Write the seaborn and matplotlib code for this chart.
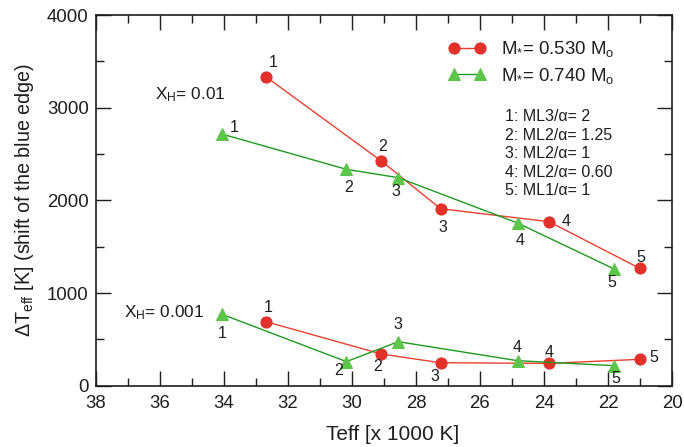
import matplotlib
matplotlib.use("Agg")
import matplotlib.pyplot as plt
import seaborn as sns
import pandas as pd

# ---- data ----
teff_m053 = [32.67, 29.08, 27.23, 23.84, 21.00]
teff_m074 = [34.05, 30.17, 28.55, 24.82, 21.81]
dT_m053_xh01 = [3330, 2425, 1910, 1770, 1265]
dT_m074_xh01 = [2715, 2335, 2245, 1755, 1260]
dT_m053_xh001 = [690, 342, 248, 241, 285]
dT_m074_xh001 = [770, 260, 475, 270, 216]
model_ids = ["1", "2", "3", "4", "5"]
model_notes = ["1: ML3/\u03b1= 2", "2: ML2/\u03b1= 1.25", "3: ML2/\u03b1= 1",
               "4: ML2/\u03b1= 0.60", "5: ML1/\u03b1= 1"]
series_labels = [r"M$_{*}$= 0.530 M$_{\rm o}$", r"M$_{*}$= 0.740 M$_{\rm o}$"]
xh_labels = [r"X$_{\rm H}$= 0.01", r"X$_{\rm H}$= 0.001"]
x_ticks = [38, 36, 34, 32, 30, 28, 26, 24, 22, 20]
y_ticks = [0, 1000, 2000, 3000, 4000]

sns.set_theme(style="ticks")
plt.rcParams["font.family"] = ["Liberation Sans", "DejaVu Sans"]
plt.rcParams["mathtext.fontset"] = "custom"
plt.rcParams["mathtext.rm"] = "Liberation Sans"
plt.rcParams["mathtext.it"] = "Liberation Sans:italic"
plt.rcParams["mathtext.bf"] = "Liberation Sans:bold"

RED_M, RED_L = "#e2302a", "#e8402f"
GRN_M, GRN_L = "#5cc64a", "#1f9a1f"
TXT = "#1e1e1e"

fig = plt.figure(figsize=(6.84, 4.47), dpi=100)
ax = fig.add_axes([0.1399, 0.1371, 0.8426, 0.8293])

def draw(teff, dT, mcol, lcol, marker, ms):
    df = pd.DataFrame({"teff": teff, "dT": dT})
    sns.lineplot(data=df, x="teff", y="dT", sort=False, ax=ax, color=lcol,
                 linewidth=1.0, marker=marker, markersize=ms,
                 markerfacecolor=mcol, markeredgecolor=mcol, legend=False)
    return ax.get_lines()[-1]

h1 = draw(teff_m053, dT_m053_xh01, RED_M, RED_L, "o", 8)
h2 = draw(teff_m074, dT_m074_xh01, GRN_M, GRN_L, "^", 9)
draw(teff_m053, dT_m053_xh001, RED_M, RED_L, "o", 8)
draw(teff_m074, dT_m074_xh001, GRN_M, GRN_L, "^", 9)

# label offsets in pixels (dx right, dy down)
off_r_up = [(7, -15), (1, -14), (2, 19), (17, 0), (1, -11)]
off_g_up = [(12, -7), (2, 18), (-2, 14), (2, 17), (-2, 14)]
off_r_lo = [(2, -14), (-4, 12), (-6, 14), (0, -11), (14, -2)]
off_g_lo = [(0, 19), (-8, 9), (0, -17), (-1, -13), (2, 13)]

def label(teff, dT, offs):
    for t, d, lab, (dx, dy) in zip(teff, dT, model_ids, offs):
        ax.annotate(lab, (t, d), xytext=(dx * 0.72, -dy * 0.72),
                    textcoords="offset points", ha="center", va="center",
                    fontsize=11.5, color=TXT)

label(teff_m053, dT_m053_xh01, off_r_up)
label(teff_m074, dT_m074_xh01, off_g_up)
label(teff_m053, dT_m053_xh001, off_r_lo)
label(teff_m074, dT_m074_xh001, off_g_lo)

ax.set_xlim(38, 20)
ax.set_ylim(0, 4000)
ax.set_xticks(x_ticks)
ax.set_yticks(y_ticks)
ax.set_xticks([v for v in range(21, 38)], minor=True)
ax.set_yticks([500, 1500, 2500, 3500], minor=True)
ax.tick_params(which="major", direction="in", length=11, width=1.0,
               top=True, right=True, labelsize=13.4, colors=TXT)
ax.tick_params(axis="x", which="major", pad=7)
ax.tick_params(axis="y", which="major", pad=5)
ax.tick_params(which="minor", direction="in", length=5.5, width=1.0,
               top=True, right=True, colors=TXT)
for s in ax.spines.values():
    s.set_linewidth(1.2)
    s.set_color(TXT)

ax.set_xlabel("Teff [x 1000 K]", fontsize=15, color=TXT, labelpad=9)
ax.xaxis.label.set_x(0.515)
ax.set_ylabel(r"$\Delta$T$_{\rm eff}$ [K] (shift of the blue edge)",
              fontsize=14.2, color=TXT, labelpad=8)

leg = ax.legend(handles=[h1, h2], labels=series_labels, loc="upper left",
                bbox_to_anchor=(0.612, 0.935), frameon=False, numpoints=2,
                handlelength=2.0, handletextpad=0.85, labelspacing=0.35,
                borderpad=0, borderaxespad=0, fontsize=13.4)
for t in leg.get_texts():
    t.set_color(TXT)

for i, note in enumerate(model_notes):
    ax.text(0.710, 0.726 - i * 0.0499, note, transform=ax.transAxes,
            ha="left", va="center", fontsize=11.5, color=TXT)

ax.text(0.103, 0.773, xh_labels[0], transform=ax.transAxes, ha="left",
        va="baseline", fontsize=12.4, color=TXT)
ax.text(0.049, 0.1845, xh_labels[1], transform=ax.transAxes, ha="left",
        va="baseline", fontsize=12.4, color=TXT)

fig.savefig("out.png", dpi=100)
